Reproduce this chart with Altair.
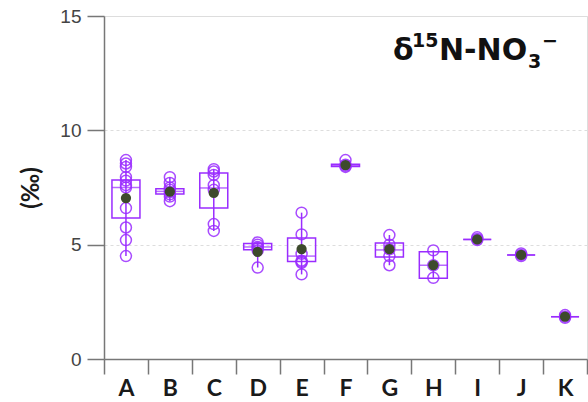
import altair as alt
import pandas as pd

groups = ["A", "B", "C", "D", "E", "F", "G", "H", "I", "J", "K"]

points = {
    "A": [8.7, 8.55, 8.4, 7.95, 7.8, 7.6, 7.5, 6.6, 5.75, 5.2, 4.5],
    "B": [7.95, 7.7, 7.5, 7.4, 7.3, 7.2, 7.1, 6.9],
    "C": [8.3, 8.2, 8.05, 7.6, 7.4, 5.9, 5.6],
    "D": [5.1, 5.0, 4.9, 4.85, 4.75, 4.0],
    "E": [6.4, 5.45, 4.6, 4.3, 4.25, 4.2, 3.7],
    "F": [8.7, 8.5, 8.45, 8.4],
    "G": [5.42, 5.0, 4.8, 4.5, 4.1],
    "H": [4.75, 4.1, 3.55],
    "I": [5.32, 5.25, 5.2],
    "J": [4.62, 4.55, 4.5],
    "K": [1.92, 1.85, 1.8],
}

q1 = [6.17, 7.22, 6.6, 4.78, 4.26, 8.42, 4.46, 3.53, 5.23, 4.55, 1.85]
median = [7.5, 7.33, 7.48, 4.9, 4.5, 8.47, 4.77, 4.1, 5.23, 4.55, 1.85]
q3 = [7.83, 7.45, 8.13, 5.05, 5.29, 8.52, 5.07, 4.69, 5.23, 4.55, 1.85]
lo = [4.5, 6.9, 5.6, 4.0, 3.7, 8.4, 4.1, 3.55, 5.2, 4.5, 1.8]
hi = [8.7, 7.95, 8.3, 5.1, 6.4, 8.7, 5.42, 4.75, 5.32, 4.62, 1.92]
mean = [7.04, 7.32, 7.26, 4.69, 4.81, 8.48, 4.8, 4.11, 5.23, 4.55, 1.85]

title_parts = ["δ", "15", "N-NO", "3", "−"]

stats = pd.DataFrame({"g": groups, "q1": q1, "median": median, "q3": q3,
                      "lo": lo, "hi": hi, "mean": mean})
pts = pd.DataFrame([{"g": g, "v": v} for g in groups for v in points[g]])

PURPLE = "#9a2cff"
FONT = "Lato"
TFONT = "DejaVu Sans"

x_enc = alt.X("g:N", sort=groups, title=None,
              scale=alt.Scale(paddingInner=0, paddingOuter=0),
              axis=alt.Axis(tickBand="extent", tickSize=15, labelPadding=3,
                            labelFontSize=23, labelFontWeight="bold",
                            labelColor="#1a1a1a", labelFont=FONT, labelAngle=0,
                            domainColor="#777", tickColor="#777",
                            domainWidth=1.5, tickWidth=1.5, grid=False))
y_scale = alt.Scale(domain=[0, 15], nice=False)
y_axis = alt.Axis(values=[0, 5, 10, 15], tickSize=17, labelPadding=6,
                  labelFontSize=19, labelColor="#444", labelFont="Liberation Sans",
                  title="(‰)", titleFontSize=24, titleFontWeight="bold",
                  titleColor="#1a1a1a", titleFont=FONT, titlePadding=16,
                  domainColor="#777", tickColor="#777", domainWidth=1.5, tickWidth=1.5,
                  grid=True, gridColor="#ddd", gridDash=[3, 3], gridWidth=1)

base = alt.Chart(stats)

whisk = base.mark_rule(color=PURPLE, strokeWidth=1.5).encode(
    x=x_enc, y=alt.Y("lo:Q", scale=y_scale, axis=y_axis), y2="hi:Q")
box = base.mark_bar(size=28, fillOpacity=0, stroke=PURPLE, strokeWidth=1.5).encode(
    x=x_enc, y=alt.Y("q1:Q", scale=y_scale), y2="q3:Q")
med = base.mark_tick(size=28, thickness=1.5, color=PURPLE).encode(
    x=x_enc, y=alt.Y("median:Q", scale=y_scale))
dots = alt.Chart(pts).mark_point(shape="circle", size=120, filled=False,
                                 stroke=PURPLE, strokeWidth=1.5, opacity=0.85).encode(
    x=x_enc, y=alt.Y("v:Q", scale=y_scale))
means = base.mark_circle(size=105, color="#3d4a2c", opacity=1).encode(
    x=x_enc, y=alt.Y("mean:Q", scale=y_scale))


def piece(txt, size, xpos, ypos):
    return alt.Chart(pd.DataFrame({"t": [txt]})).mark_text(
        align="left", baseline="alphabetic", fontSize=size, fontWeight="bold",
        font=TFONT, color="#111").encode(
        text="t:N", x=alt.value(xpos), y=alt.value(ypos))


label = alt.layer(
    piece(title_parts[0], 30, 289, 44),
    piece(title_parts[1], 19, 308, 31),
    piece(title_parts[2], 30, 335, 44),
    piece(title_parts[3], 19, 424, 52),
    piece(title_parts[4], 19, 438, 31),
)

chart = alt.layer(whisk, box, med, dots, means, label).properties(
    width=483, height=343,
    autosize=alt.AutoSizeParams(type="none"),
    padding={"left": 104, "top": 16, "right": 1, "bottom": 43},
).configure_view(stroke="#888", strokeWidth=1.5).configure(background="white")

chart.save("out.html", embed_options={"renderer": "svg", "actions": False})
